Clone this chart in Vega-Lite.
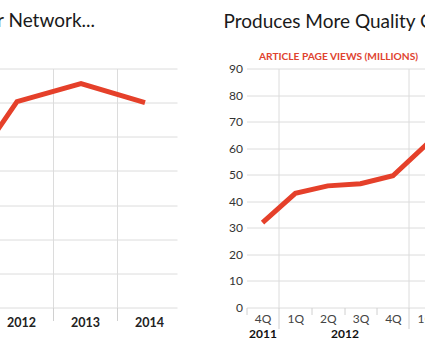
{
  "$schema": "https://vega.github.io/schema/vega-lite/v6.json",
  "padding": {"left": -163, "top": 11.5, "right": 0, "bottom": 4},
  "spacing": 42.5,
  "background": "white",
  "config": {
    "view": {"stroke": null},
    "font": "Lato, sans-serif",
    "title": {"font": "Lato, sans-serif", "fontSize": 19, "fontWeight": "normal", "color": "#1a1a1a"},
    "axis": {"labelFont": "Lato, sans-serif", "gridColor": "#dcdcdc", "tickColor": "#d0d0d0", "domain": false}
  },
  "hconcat": [
    {
      "width": 256,
      "height": 239,
      "title": {"text": "Audience Grows for Network...", "anchor": "end", "dx": -86, "offset": 37.5},
      "data": {"values": [
        {"year": 2011, "v": 33},
        {"year": 2012, "v": 60.3},
        {"year": 2013, "v": 65.6},
        {"year": 2014, "v": 60}
      ]},
      "mark": {"type": "line", "color": "#e5402a", "strokeWidth": 5, "clip": true},
      "encoding": {
        "x": {
          "field": "year", "type": "quantitative",
          "scale": {"domain": [2010.5, 2014.5], "nice": false, "zero": false},
          "axis": {
            "title": null, "values": [2011, 2012, 2013, 2014], "format": "d",
            "grid": true,
            "gridOpacity": {"condition": {"test": "datum.value >= 2014", "value": 0}, "value": 1},
            "tickOpacity": {"condition": {"test": "datum.value >= 2014", "value": 0}, "value": 1},
            "tickOffset": 36, "labelOffset": -32, "tickSize": 13,
            "labelPadding": -4, "labelFontSize": 12.5, "labelFontWeight": "bold", "labelColor": "#222222"
          }
        },
        "y": {
          "field": "v", "type": "quantitative",
          "scale": {"domain": [0, 70], "nice": false},
          "axis": {"title": null, "values": [0, 10, 20, 30, 40, 50, 60, 70], "labels": false, "ticks": false}
        }
      }
    },
    {
      "width": 181,
      "height": 239,
      "title": {"text": "Produces More Quality Content", "anchor": "start", "dx": -5, "offset": 19.5},
      "data": {"values": [
        {"date": "2011-11-15", "v": 32},
        {"date": "2012-02-15", "v": 43},
        {"date": "2012-05-16", "v": 45.8},
        {"date": "2012-08-16", "v": 46.6},
        {"date": "2012-11-15", "v": 49.6},
        {"date": "2013-02-14", "v": 61},
        {"date": "2013-05-16", "v": 72}
      ]},
      "layer": [
        {
          "mark": {"type": "line", "color": "#e5402a", "strokeWidth": 5, "clip": true},
          "encoding": {
            "x": {
              "field": "date", "type": "temporal",
              "scale": {"domain": [{"year": 2011, "month": 10, "date": 1}, {"year": 2013, "month": 2, "date": 20}]},
              "axis": {
                "title": null, "orient": "bottom",
                "values": [
                  {"year": 2011, "month": 11, "date": 15},
                  {"year": 2012, "month": 2, "date": 15},
                  {"year": 2012, "month": 5, "date": 16},
                  {"year": 2012, "month": 8, "date": 16},
                  {"year": 2012, "month": 11, "date": 15},
                  {"year": 2013, "month": 2, "date": 14}
                ],
                "labelExpr": "quarter(datum.value) + 'Q'",
                "grid": true,
                "gridOpacity": {"condition": {"test": "quarter(datum.value) == 1", "value": 1}, "value": 0},
                "tickSize": {"condition": {"test": "quarter(datum.value) == 1", "value": 21}, "value": 7},
                "labelPadding": {"condition": {"test": "quarter(datum.value) == 1", "value": -15}, "value": -1},
                "tickOffset": -16.4, "labelOffset": 16.4,
                "labelFontSize": 12, "labelColor": "#444444"
              }
            },
            "y": {
              "field": "v", "type": "quantitative",
              "scale": {"domain": [0, 90], "nice": false},
              "axis": {
                "values": [0, 10, 20, 30, 40, 50, 60, 70, 80, 90],
                "labelOverlap": false,
                "ticks": false, "labelPadding": 4, "labelFontSize": 12, "labelColor": "#333333",
                "title": "ARTICLE PAGE VIEWS (MILLIONS)",
                "titleAngle": 0, "titleAlign": "left", "titleBaseline": "alphabetic",
                "titleX": 12, "titleY": -9,
                "titleColor": "#e0432f", "titleFontSize": 10.2, "titleFontWeight": "bold",
                "titleFont": "Lato, sans-serif"
              }
            }
          }
        },
        {
          "mark": {"type": "point", "opacity": 0, "clip": true},
          "encoding": {
            "x": {
              "field": "date", "type": "temporal",
              "axis": {
                "title": null, "orient": "bottom",
                "values": [
                  {"year": 2011, "month": 11, "date": 15},
                  {"year": 2012, "month": 7, "date": 2}
                ],
                "format": "%Y", "ticks": false, "grid": false,
                "labelPadding": 21, "labelFontSize": 12, "labelFontWeight": "bold", "labelColor": "#111111"
              }
            }
          }
        }
      ],
      "resolve": {"axis": {"x": "independent"}}
    }
  ]
}
